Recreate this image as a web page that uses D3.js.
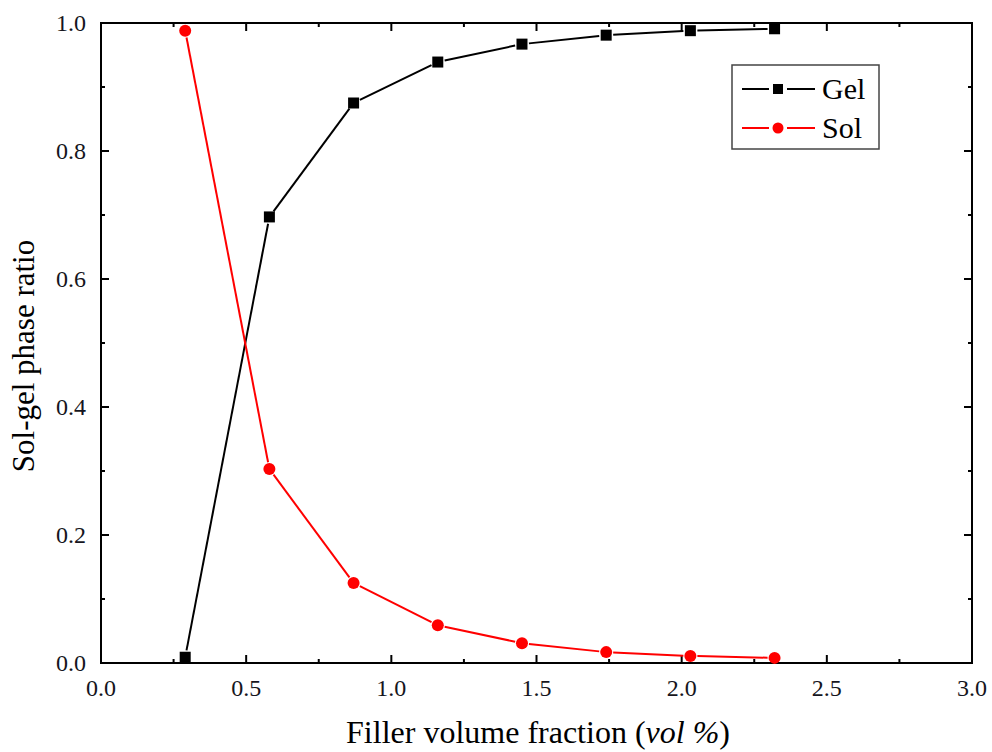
<!DOCTYPE html>
<html lang="en">
<head>
    <meta charset="utf-8">
    <title>Sol-gel phase ratio</title>
    <style>
        body { margin: 0; background: #fff; }
        svg text { font-family: "Liberation Serif", "DejaVu Serif", serif; }
        .tick-label { font-size: 24px; fill: #151520; }
    </style>
</head>
<body>
<svg width="992" height="752"></svg>
<script src="https://cdn.jsdelivr.net/npm/d3@7/dist/d3.min.js"></script>
<script>
    // data
    const fraction = [0.29, 0.58, 0.87, 1.16, 1.45, 1.74, 2.03, 2.32];
    const gel = [0.009, 0.697, 0.875, 0.939, 0.967, 0.981, 0.988, 0.991];
    const sol = [0.988, 0.303, 0.125, 0.059, 0.031, 0.017, 0.011, 0.008];
    const xTicks = [0, 0.5, 1.0, 1.5, 2.0, 2.5, 3.0];
    const yTicks = [0, 0.2, 0.4, 0.6, 0.8, 1.0];

    const plotLeft = 101, plotRight = 972, plotTop = 23, plotBottom = 663;
    const serif = "'Liberation Serif', 'DejaVu Serif', serif";

    const svg = d3.select("svg");
    const x = d3.scaleLinear().domain([0, 3]).range([plotLeft, plotRight]);
    const y = d3.scaleLinear().domain([0, 1]).range([plotBottom, plotTop]);

    // frame
    svg.append("rect")
        .attr("x", plotLeft).attr("y", plotTop)
        .attr("width", plotRight - plotLeft).attr("height", plotBottom - plotTop)
        .attr("fill", "none").attr("stroke", "#000").attr("stroke-width", 2);

    // ticks inside, on all four sides
    const g = svg.append("g").attr("stroke", "#000").attr("stroke-width", 2);
    d3.range(0, 3.001, 0.25).forEach(v => {
        const major = Math.abs(v * 2 - Math.round(v * 2)) < 1e-6;
        const len = major ? 8 : 4;
        g.append("line").attr("x1", x(v)).attr("x2", x(v)).attr("y1", plotBottom).attr("y2", plotBottom - len);
        g.append("line").attr("x1", x(v)).attr("x2", x(v)).attr("y1", plotTop).attr("y2", plotTop + len);
    });
    d3.range(0, 1.001, 0.1).forEach((v, i) => {
        const len = i % 2 === 0 ? 8 : 4;
        g.append("line").attr("y1", y(v)).attr("y2", y(v)).attr("x1", plotLeft).attr("x2", plotLeft + len);
        g.append("line").attr("y1", y(v)).attr("y2", y(v)).attr("x1", plotRight).attr("x2", plotRight - len);
    });

    svg.selectAll(".xl").data(xTicks).enter().append("text")
        .attr("class", "tick-label")
        .attr("font-family", serif)
        .attr("x", d => x(d)).attr("y", plotBottom + 33)
        .attr("text-anchor", "middle")
        .text(d => d.toFixed(1));

    svg.selectAll(".yl").data(yTicks).enter().append("text")
        .attr("class", "tick-label")
        .attr("font-family", serif)
        .attr("x", plotLeft - 15).attr("y", d => y(d) + 8)
        .attr("text-anchor", "end")
        .text(d => d.toFixed(1));

    // axis titles
    const xt = svg.append("text")
        .attr("font-family", serif)
        .attr("x", 538).attr("y", 743)
        .attr("text-anchor", "middle")
        .style("font-size", "32px");
    xt.append("tspan").text("Filler volume fraction (");
    xt.append("tspan").style("font-style", "italic").text("vol %");
    xt.append("tspan").text(")");

    svg.append("text")
        .attr("font-family", serif)
        .attr("transform", "translate(34,356) rotate(-90)")
        .attr("text-anchor", "middle")
        .style("font-size", "31px")
        .text("Sol-gel phase ratio");

    // line segments with small gaps around markers
    function drawSeries(vals, color, marker) {
        const pts = fraction.map((f, i) => [x(f), y(vals[i])]);
        const gap = 7;
        for (let i = 0; i < pts.length - 1; i++) {
            const [x1, y1] = pts[i], [x2, y2] = pts[i + 1];
            const dx = x2 - x1, dy = y2 - y1, L = Math.hypot(dx, dy);
            if (L <= 2 * gap) continue;
            svg.append("line")
                .attr("x1", x1 + dx / L * gap).attr("y1", y1 + dy / L * gap)
                .attr("x2", x2 - dx / L * gap).attr("y2", y2 - dy / L * gap)
                .attr("stroke", color).attr("stroke-width", 2);
        }
        pts.forEach(p => {
            if (marker === "square") {
                svg.append("rect")
                    .attr("x", p[0] - 5.5).attr("y", p[1] - 5.5)
                    .attr("width", 11).attr("height", 11)
                    .attr("fill", color);
            } else {
                svg.append("circle")
                    .attr("cx", p[0]).attr("cy", p[1]).attr("r", 6)
                    .attr("fill", color);
            }
        });
    }
    drawSeries(gel, "#000", "square");
    drawSeries(sol, "#ff0000", "circle");

    // legend
    const lg = svg.append("g");
    lg.append("rect")
        .attr("x", 732).attr("y", 65).attr("width", 147).attr("height", 84)
        .attr("fill", "#fff").attr("stroke", "#444").attr("stroke-width", 1.5);
    [["Gel", "#000", "square", 89], ["Sol", "#ff0000", "circle", 128]].forEach(([name, color, m, cy]) => {
        lg.append("line").attr("x1", 742).attr("x2", 769).attr("y1", cy).attr("y2", cy)
            .attr("stroke", color).attr("stroke-width", 2);
        lg.append("line").attr("x1", 787).attr("x2", 815).attr("y1", cy).attr("y2", cy)
            .attr("stroke", color).attr("stroke-width", 2);
        if (m === "square") {
            lg.append("rect").attr("x", 773).attr("y", cy - 5).attr("width", 10).attr("height", 10).attr("fill", color);
        } else {
            lg.append("circle").attr("cx", 778).attr("cy", cy).attr("r", 5.5).attr("fill", color);
        }
        lg.append("text").attr("font-family", serif).attr("x", 822).attr("y", cy + 10)
            .style("font-size", "30px").text(name);
    });
</script>
</body>
</html>
